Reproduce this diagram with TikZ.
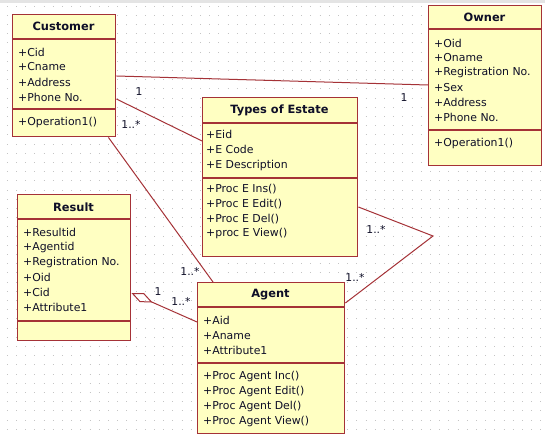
\documentclass[tikz,border=0pt]{standalone}
\usepackage{fontspec}
\setmainfont{DejaVu Sans}
\usetikzlibrary{arrows.meta,calc}
\definecolor{umlred}{RGB}{165,50,55}
\definecolor{umlfill}{RGB}{255,255,194}
\definecolor{umltext}{RGB}{15,15,40}
\definecolor{griddot}{RGB}{196,196,196}
\definecolor{topband}{RGB}{228,228,228}

\begin{document}
\begin{tikzpicture}[x=1pt,y=-1pt,
  classbox/.style={draw=umlred,fill=umlfill,line width=1.4pt,rectangle,inner sep=0pt,anchor=north west},
  sepline/.style={draw=umlred,line width=1.4pt},
  member/.style={anchor=west,inner sep=0pt,font=\fontsize{10.9}{12}\selectfont,text=umltext},
  classname/.style={anchor=center,inner sep=0pt,font=\fontsize{11.4}{13}\selectfont\bfseries,text=umltext},
  assoc/.style={draw=umlred,line width=1pt},
  mult/.style={inner sep=0pt,font=\fontsize{10.8}{12}\selectfont,text=umltext}]

% canvas
\useasboundingbox (0,0) rectangle (545,435);
\fill[white] (0,0) rectangle (545,435);
\fill[topband] (0,0) rectangle (545,3.5);
\foreach \i in {0,...,46}
  \draw[griddot,line width=1pt,dash pattern=on 1pt off 8.2pt] (6.8,6.1+9.2*\i) -- (545,6.1+9.2*\i);

% class boxes
\node[classbox,minimum width=103pt,minimum height=122pt] (customer) at (12,14) {};
\node[classbox,minimum width=113pt,minimum height=160pt] (owner) at (428,5) {};
\node[classbox,minimum width=155pt,minimum height=159pt] (types) at (202,97) {};
\node[classbox,minimum width=113pt,minimum height=146pt] (result) at (17,194) {};
\node[classbox,minimum width=147pt,minimum height=151pt] (agent) at (197,282) {};

% associations
\draw[assoc] ($(customer.north east)+(0,62)$) -- ($(owner.north west)+(0,80)$);
\draw[assoc] ($(customer.north east)+(0,85)$) -- ($(types.north west)+(0,44)$);
\draw[assoc] ($(customer.south east)+(-8,0)$) -- ($(agent.north west)+(16,0)$);
\draw[assoc,{Diamond[open,length=23pt,width=10pt]}-] ($(result.north east)+(0,99)$) -- ($(agent.north west)+(0,40)$);
\coordinate (bend) at (433,236);
\draw[assoc] ($(types.north east)+(0,110)$) -- (bend) -- ($(agent.north east)+(0,21)$);

% compartments: name / attributes / operations
\foreach \n/\t/\o in {customer/25/95, owner/24/125, types/26/81, result/25/127, agent/25/81}{
  \draw[sepline] ($(\n.north west)+(0,\t)$) -- ($(\n.north east)+(0,\t)$);
  \draw[sepline] ($(\n.north west)+(0,\o)$) -- ($(\n.north east)+(0,\o)$);
}

% Customer
\node[classname] (customer-name) at (63.5,26) {Customer};
\foreach \t [count=\k from 0] in {+Cid,+Cname,+Address,+Phone No.}
  \node[member] (customer-a\k) at (18,52+15*\k) {\t};
\node[member] (customer-op1) at (18,122) {+Operation1()};

% Owner
\node[classname] (owner-name) at (484.5,17) {Owner};
\foreach \t [count=\k from 0] in {+Oid,+Oname,+Registration No.,+Sex,+Address,+Phone No.}
  \node[member] (owner-a\k) at (434,43+14.9*\k) {\t};
\node[member] (owner-op1) at (434,143) {+Operation1()};

% Types of Estate
\node[classname] (types-name) at (279.5,110) {Types of Estate};
\foreach \t [count=\k from 0] in {+Eid,+E Code,+E Description}
  \node[member] (types-a\k) at (206,134+15.5*\k) {\t};
\foreach \t [count=\k from 0] in {+Proc E Ins(),+Proc E Edit(),+Proc E Del(),+proc E View()}
  \node[member] (types-op\k) at (206,189+14.8*\k) {\t};

% Result
\node[classname] (result-name) at (73.5,207) {Result};
\foreach \t [count=\k from 0] in {+Resultid,+Agentid,+Registration No.,+Oid,+Cid,+Attribute1}
  \node[member] (result-a\k) at (23,232+15*\k) {\t};

% Agent
\node[classname] (agent-name) at (270.5,295) {Agent};
\foreach \t [count=\k from 0] in {+Aid,+Aname,+Attribute1}
  \node[member] (agent-a\k) at (203,320+15.3*\k) {\t};
\foreach \t [count=\k from 0] in {+Proc Agent Inc(),+Proc Agent Edit(),+Proc Agent Del(),+Proc Agent View()}
  \node[member] (agent-op\k) at (203,376+15*\k) {\t};

% multiplicities
\node[mult] (m-co-c) at (139,92) {1};
\node[mult] (m-co-o) at (404,98) {1};
\node[mult] (m-ct-c) at (131,124) {1..*};
\node[mult] (m-ca-a) at (190,271) {1..*};
\node[mult] (m-ra-r) at (158,292) {1};
\node[mult] (m-ra-a) at (181,301) {1..*};
\node[mult] (m-ta-t) at (376,229) {1..*};
\node[mult] (m-ta-a) at (355,277) {1..*};
\end{tikzpicture}
\end{document}
